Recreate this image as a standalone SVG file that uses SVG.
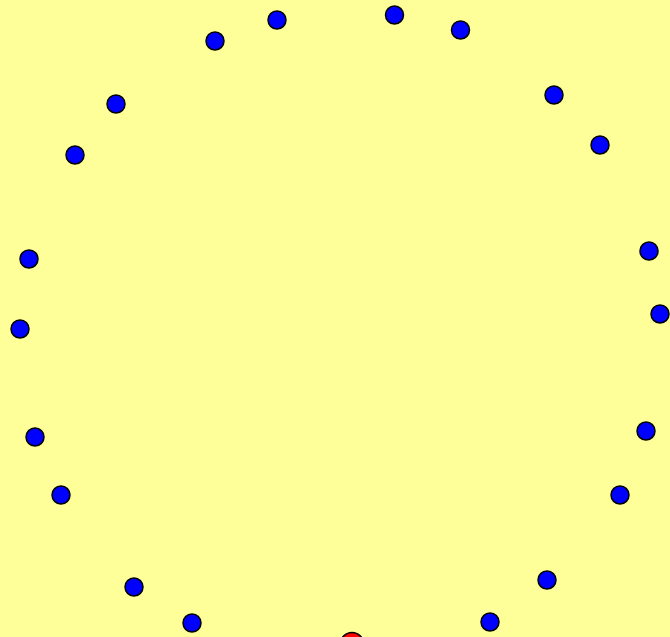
<svg xmlns="http://www.w3.org/2000/svg" width="670" height="637" viewBox="0 0 670 637">
<style>
.n{fill:#0000ff;stroke:#000;stroke-width:1.5}
.r{fill:#ff0000;stroke:#000;stroke-width:1.5}
</style>
<rect width="670" height="637" fill="#ffff99"/>
<g id="connectors"></g>
<g id="n1"><circle class="n" cx="277" cy="20" r="9"/></g>
<g id="n2"><circle class="n" cx="215" cy="41" r="9"/></g>
<g id="n3"><circle class="n" cx="394.5" cy="15" r="9"/></g>
<g id="n4"><circle class="n" cx="460.5" cy="30" r="9"/></g>
<g id="n5"><circle class="n" cx="116" cy="104" r="9"/></g>
<g id="n6"><circle class="n" cx="554" cy="95" r="9"/></g>
<g id="n7"><circle class="n" cx="75" cy="155" r="9"/></g>
<g id="n8"><circle class="n" cx="600" cy="145" r="9"/></g>
<g id="n9"><circle class="n" cx="29" cy="259" r="9"/></g>
<g id="n10"><circle class="n" cx="649" cy="251" r="9"/></g>
<g id="n11"><circle class="n" cx="20" cy="329" r="9"/></g>
<g id="n12"><circle class="n" cx="660" cy="314" r="9"/></g>
<g id="n13"><circle class="n" cx="35" cy="437" r="9"/></g>
<g id="n14"><circle class="n" cx="646" cy="431" r="9"/></g>
<g id="n15"><circle class="n" cx="61" cy="495" r="9"/></g>
<g id="n16"><circle class="n" cx="620" cy="495" r="9"/></g>
<g id="n17"><circle class="n" cx="134" cy="587" r="9"/></g>
<g id="n18"><circle class="n" cx="547" cy="580" r="9"/></g>
<g id="n19"><circle class="n" cx="192" cy="623" r="9"/></g>
<g id="n20"><circle class="n" cx="490" cy="622" r="9"/></g>
<g id="red"><circle class="r" cx="352" cy="644" r="11.5"/></g>
</svg>
